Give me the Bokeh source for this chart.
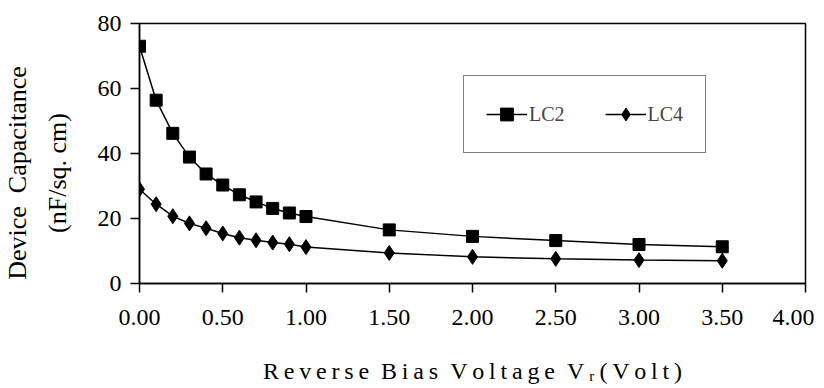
from bokeh.plotting import figure
from bokeh.models import Range1d, Legend, LegendItem, FixedTicker
from bokeh.embed import file_html
from bokeh.resources import INLINE

voltage = [0.0, 0.1, 0.2, 0.3, 0.4, 0.5, 0.6, 0.7, 0.8, 0.9, 1.0, 1.5, 2.0, 2.5, 3.0, 3.5]
lc2 = [73.0, 56.4, 46.2, 38.9, 33.7, 30.3, 27.3, 25.1, 23.1, 21.7, 20.6, 16.5, 14.5, 13.2, 12.0, 11.3]
lc4 = [29.0, 24.4, 20.7, 18.5, 17.0, 15.4, 14.1, 13.3, 12.6, 12.1, 11.2, 9.4, 8.2, 7.6, 7.2, 7.0]
x_ticks = [0.0, 0.5, 1.0, 1.5, 2.0, 2.5, 3.0, 3.5, 4.0]
x_tick_labels = ["0.00", "0.50", "1.00", "1.50", "2.00", "2.50", "3.00", "3.50", "4.00"]
y_ticks = [0, 20, 40, 60, 80]

FONT = "Liberation Serif"

def spaced(s):
    words = s.split(" ")
    return "\u2002".join("\u2009".join(w) for w in words)

p = figure(frame_width=666, frame_height=260, output_backend="svg", toolbar_location=None,
           x_range=Range1d(0, 4), y_range=Range1d(0, 80),
           min_border_left=139, min_border_right=9, min_border_top=23, min_border_bottom=104)
p.xgrid.visible = False
p.ygrid.visible = False
p.outline_line_color = "black"
p.outline_line_width = 1.5
p.background_fill_color = "white"
p.border_fill_color = "white"

p.xaxis.ticker = FixedTicker(ticks=x_ticks)
p.xaxis.major_label_overrides = {t: l for t, l in zip(x_ticks, x_tick_labels)}
p.yaxis.ticker = FixedTicker(ticks=y_ticks)
for ax in (p.xaxis, p.yaxis):
    ax.axis_line_color = "black"
    ax.axis_line_width = 1.5
    ax.major_tick_line_color = "black"
    ax.major_tick_line_width = 1.5
    ax.major_tick_in = 0
    ax.major_tick_out = 9
    ax.minor_tick_line_color = None
    ax.major_label_text_font = FONT
    ax.major_label_text_font_size = "24px"
    ax.major_label_text_color = "black"
    ax.axis_label_text_font = FONT
    ax.axis_label_text_font_style = "normal"
    ax.axis_label_text_color = "black"
p.xaxis.major_label_standoff = 17
p.yaxis.major_label_standoff = 9
p.xaxis.axis_label = spaced("Reverse Bias Voltage V\u1d63(Volt)")
p.xaxis.axis_label_text_font_size = "24px"
p.xaxis.axis_label_standoff = 30
p.yaxis.axis_label = "Device\u2002Capacitance\u2002\u2002\u2002\n(nF/sq. cm)\u2002\u2002\u2002"
p.yaxis.axis_label_text_font_size = "26px"
p.yaxis.axis_label_text_line_height = 1.35
p.yaxis.axis_label_standoff = 23

l2 = p.line(voltage, lc2, line_color="black", line_width=1.5)
s2 = p.scatter(voltage, lc2, marker="square", size=12, fill_color="black", line_color="black")
l4 = p.line(voltage, lc4, line_color="black", line_width=1.5)
s4 = p.scatter(voltage, lc4, marker="diamond", size=15, fill_color="black", line_color="black")

legend = Legend(items=[LegendItem(label="LC2", renderers=[l2, s2]),
                       LegendItem(label="LC4", renderers=[l4, s4])],
                orientation="horizontal", location=(324, 130),
                label_text_font=FONT, label_text_font_size="20px",
                label_standoff=2, glyph_width=41, label_height=32, glyph_height=32,
                spacing=40, padding=22, margin=0,
                border_line_color="black", border_line_width=1.5,
                background_fill_alpha=1.0)
p.add_layout(legend, "center")

open("out.html", "w").write(file_html(p, INLINE))
